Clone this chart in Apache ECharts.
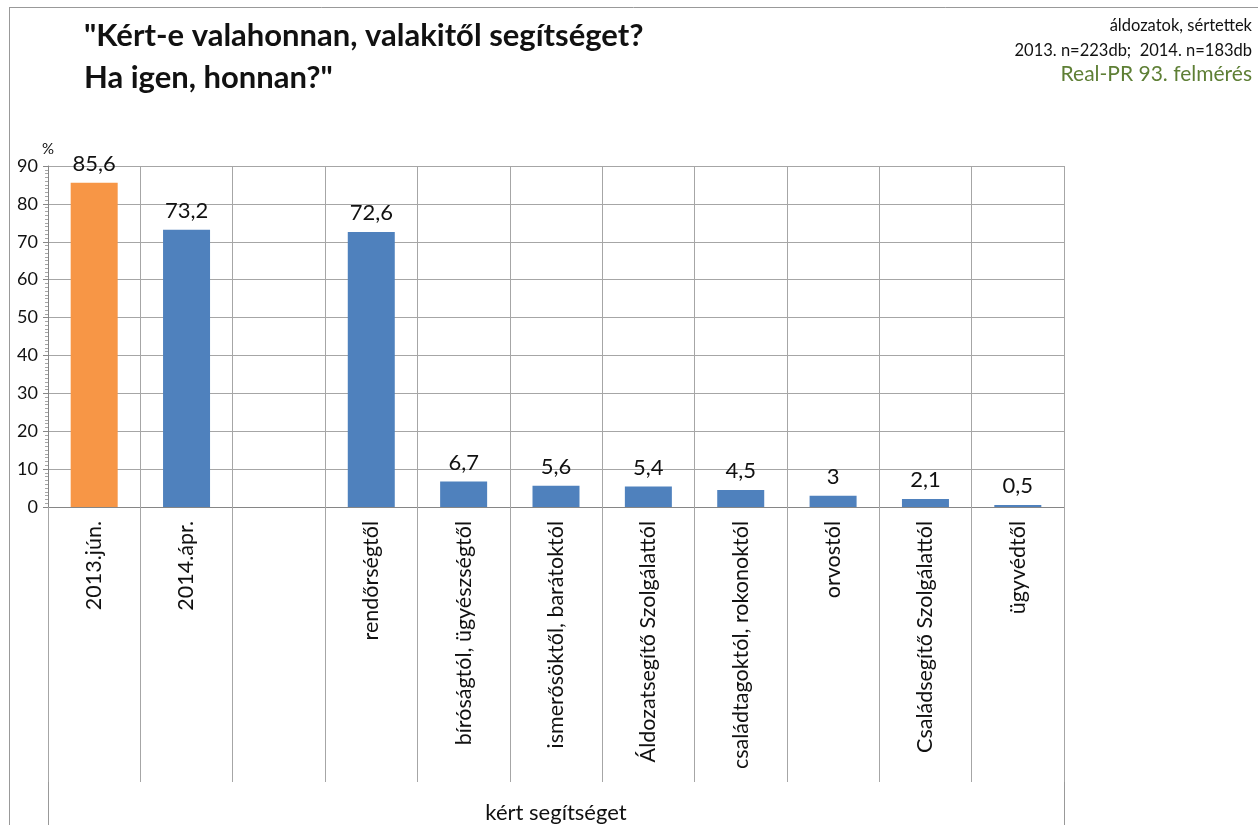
<!DOCTYPE html>
<html><head><meta charset="utf-8">
<script src="https://cdn.jsdelivr.net/npm/echarts@6/dist/echarts.min.js"></script>
<style>html,body{margin:0;padding:0;background:#fff}#c{width:1258px;height:825px}</style>
</head><body><div id="c"></div>
<script>
var categories = ["2013.jún.", "2014.ápr.", "", "rendőrségtől", "bíróságtól, ügyészségtől", "ismerősöktől, barátoktól", "Áldozatsegítő Szolgálattól", "családtagoktól, rokonoktól", "orvostól", "Családsegítő Szolgálattól", "ügyvédtől"];
var values = [85.6, 73.2, null, 72.6, 6.7, 5.6, 5.4, 4.5, 3, 2.1, 0.5];
var highlightIndex = 0;
var yTicks = [0, 10, 20, 30, 40, 50, 60, 70, 80, 90];

var FONT = 'Lato, "Open Sans", sans-serif';
var chart = echarts.init(document.getElementById('c'));
var data = values.map(function (v, i) {
  return { value: v, itemStyle: { color: i === highlightIndex ? '#F79646' : '#4F81BD' } };
});
chart.setOption({
  animation: false,
  textStyle: { fontFamily: FONT },
  title: [
    { text: '"Kért-e valahonnan, valakitől segítséget?\nHa igen, honnan?"', left: 79, top: 10,
      textStyle: { fontFamily: FONT, fontSize: 31, fontWeight: 'bold', color: '#111', lineHeight: 42 } },
    { text: 'áldozatok, sértettek', right: 1, top: 12,
      textStyle: { fontFamily: FONT, fontSize: 16.5, fontWeight: 'normal', color: '#111' } },
    { text: '2013. n=223db;  2014. n=183db', right: 1, top: 37,
      textStyle: { fontFamily: FONT, fontSize: 16.5, fontWeight: 'normal', color: '#111' } },
    { text: 'Real-PR 93. felmérés', right: 1, top: 59,
      textStyle: { fontFamily: FONT, fontSize: 21, fontWeight: 'normal', color: '#5E7F35' } }
  ],
  grid: { left: 48, right: 194, top: 166, bottom: 315, containLabel: false },
  xAxis: {
    type: 'category', data: categories,
    name: 'kért segítséget', nameLocation: 'middle', nameGap: 295,
    nameTextStyle: { fontFamily: FONT, fontSize: 22, color: '#111' },
    axisLine: { show: true, lineStyle: { color: '#868686', width: 1 } },
    axisTick: { show: true, alignWithLabel: false, length: 275, lineStyle: { color: '#a6a6a6' } },
    splitLine: { show: true, lineStyle: { color: '#a6a6a6', width: 1 } },
    axisLabel: { rotate: 90, margin: 14, fontFamily: FONT, fontSize: 21.5, color: '#111', interval: 0 }
  },
  yAxis: {
    type: 'value', min: 0, max: 90, interval: 10,
    name: '%', nameLocation: 'end', nameGap: 8,
    nameTextStyle: { fontFamily: FONT, fontSize: 15, color: '#111', align: 'left', padding: [0, 0, 0, -6] },
    axisLine: { show: true, lineStyle: { color: '#868686' } },
    axisTick: { show: true, length: 5, lineStyle: { color: '#868686' } },
    minorTick: { show: true, splitNumber: 10, length: 3, lineStyle: { color: '#a6a6a6' } },
    splitLine: { show: true, lineStyle: { color: '#a6a6a6', width: 1 } },
    axisLabel: { fontFamily: FONT, fontSize: 18, color: '#111', margin: 10,
      formatter: function (v) { return yTicks.indexOf(v) >= 0 ? String(v) : ''; } }
  },
  series: [{
    type: 'bar', data: data, barWidth: 47,
    label: { show: true, position: 'top', distance: 8, fontFamily: FONT, fontSize: 22, color: '#111',
      formatter: function (p) { return p.value == null ? '' : String(p.value).replace('.', ','); } }
  }],
  graphic: [
    { type: 'line', shape: { x1: 9.5, y1: 7, x2: 9.5, y2: 825 }, style: { stroke: '#999', lineWidth: 1 } },
    { type: 'line', shape: { x1: 9, y1: 7.5, x2: 1258, y2: 7.5 }, style: { stroke: '#999', lineWidth: 1 } },
    { type: 'line', shape: { x1: 48.5, y1: 508, x2: 48.5, y2: 825 }, style: { stroke: '#999', lineWidth: 1 } },
    { type: 'line', shape: { x1: 1064.5, y1: 508, x2: 1064.5, y2: 825 }, style: { stroke: '#999', lineWidth: 1 } }
  ]
});
</script></body></html>
